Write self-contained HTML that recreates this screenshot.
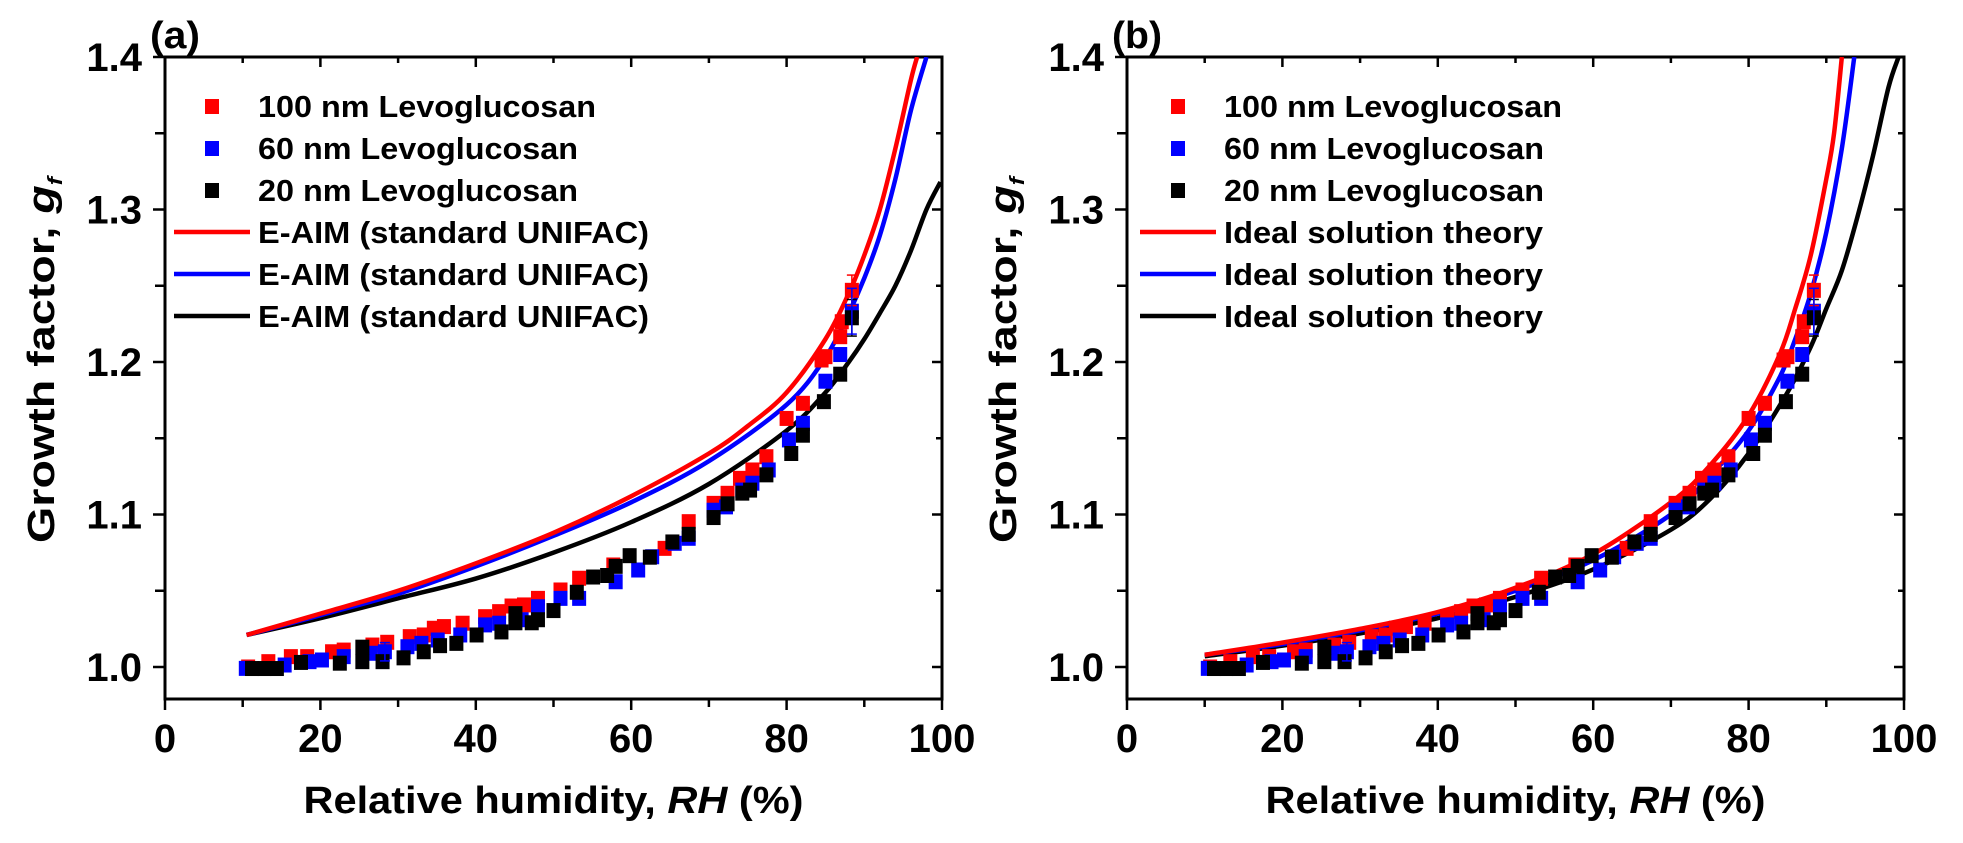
<!DOCTYPE html>
<html><head><meta charset="utf-8"><style>
html,body{margin:0;padding:0;background:#fff;}
svg{display:block;font-family:"Liberation Sans",Arial,sans-serif;font-weight:bold;}
</style></head><body>
<svg id="chart" width="1963" height="843" viewBox="0 0 1963 843" xmlns="http://www.w3.org/2000/svg"></svg>
<script>
// ---- data ----
const rhRed=[10.7,13.3,16.2,18.3,21.5,23.0,26.7,28.6,31.5,33.3,34.6,35.9,38.3,41.2,43.0,44.6,46.2,48.0,50.9,53.3,57.7,64.3,67.4,70.6,72.4,74.0,75.6,77.4,80.0,82.1,84.5,85.0,86.9,87.1,88.4];
const gfRed=[1.000,1.0035,1.0068,1.0068,1.010,1.0111,1.0144,1.0162,1.0199,1.021,1.0254,1.0265,1.0287,1.033,1.0363,1.040,1.0407,1.045,1.0505,1.0582,1.0669,1.0778,1.0953,1.1073,1.1139,1.1237,1.1292,1.1379,1.163,1.1729,1.2013,1.2035,1.2166,1.2264,1.247];
const rhBlue=[10.4,15.4,18.6,20.2,23.0,26.5,28.3,31.2,33.0,35.1,38.0,41.2,43.0,45.9,48.0,50.9,53.3,58.0,60.9,62.7,65.6,67.4,70.6,72.2,74.3,75.6,77.7,80.3,82.1,85.0,86.9,88.4];
const gfBlue=[0.9991,1.0013,1.0035,1.0046,1.0068,1.009,1.010,1.0133,1.0155,1.0177,1.021,1.0276,1.0287,1.031,1.0395,1.045,1.045,1.0559,1.0636,1.0723,1.0811,1.0844,1.1028,1.105,1.116,1.1205,1.1292,1.1489,1.1598,1.1874,1.2049,1.2333];
const rhBlack=[11.2,12.8,14.4,17.5,22.5,25.4,25.4,28.0,30.7,33.3,35.4,37.5,40.1,43.3,45.1,45.1,47.2,48.0,50.0,53.0,55.1,56.9,58.0,59.8,62.4,65.3,67.4,70.6,72.4,74.3,75.3,77.4,80.6,82.1,84.8,86.9,88.4];
const gfBlack=[0.999,0.999,0.999,1.003,1.0025,1.013,1.0035,1.0035,1.006,1.010,1.014,1.0155,1.021,1.023,1.035,1.029,1.029,1.031,1.037,1.049,1.059,1.060,1.066,1.073,1.072,1.082,1.087,1.098,1.107,1.114,1.116,1.126,1.140,1.152,1.174,1.192,1.229];
// model curves panel a (E-AIM)
const rhAIMRed=[10.5,20,30,40,50,60,70,75,80,85,88,90,92,94,96,96.8];
const gfAIMRed=[1.021,1.035,1.050,1.068,1.088,1.112,1.140,1.158,1.180,1.215,1.245,1.270,1.300,1.340,1.385,1.40];
const rhAIMBlue=[10.5,20,30,40,50,60,70,80,85,88,90,92,94,96,98];
const gfAIMBlue=[1.021,1.034,1.048,1.066,1.086,1.108,1.135,1.172,1.203,1.232,1.255,1.283,1.320,1.365,1.40];
const rhAIMBlack=[10.5,20,30,40,50,60,70,80,85,88,90,92,94,96,98,99.8];
const gfAIMBlack=[1.021,1.032,1.045,1.058,1.075,1.095,1.120,1.155,1.180,1.200,1.215,1.232,1.250,1.273,1.300,1.318];
// model curves panel b (ideal solution)
const rhIdRed=[10,20,30,40,50,60,70,75,80,84,86,88,90,91,92];
const gfIdRed=[1.008,1.016,1.025,1.036,1.052,1.074,1.108,1.132,1.165,1.205,1.235,1.270,1.320,1.350,1.40];
const rhIdBlue=[10,20,30,40,50,60,70,75,80,84,86,88,90,92,93.6];
const gfIdBlue=[1.008,1.015,1.024,1.035,1.050,1.070,1.100,1.125,1.155,1.190,1.215,1.245,1.285,1.340,1.40];
const rhIdBlack=[10,20,30,40,50,60,70,75,80,85,88,90,92,94,96,98,99.3];
const gfIdBlack=[1.007,1.014,1.022,1.032,1.046,1.064,1.090,1.110,1.140,1.180,1.210,1.235,1.260,1.295,1.335,1.380,1.40];
const xTicks=[0,20,40,60,80,100];
const yTicks=[1.0,1.1,1.2,1.3,1.4];
const yTickLabels=["1.0","1.1","1.2","1.3","1.4"];

const NS="http://www.w3.org/2000/svg";
const svg=document.getElementById('chart');
function mk(tag,attrs,parent){const e=document.createElementNS(NS,tag);for(const k in attrs)e.setAttribute(k,attrs[k]);(parent||svg).appendChild(e);return e;}
function smoothPath(pts){
  let d='M'+pts[0][0]+','+pts[0][1];
  for(let i=0;i<pts.length-1;i++){
    const p0=pts[i-1]||pts[i],p1=pts[i],p2=pts[i+1],p3=pts[i+2]||p2;
    const c1=[p1[0]+(p2[0]-p0[0])/6,p1[1]+(p2[1]-p0[1])/6];
    const c2=[p2[0]-(p3[0]-p1[0])/6,p2[1]-(p3[1]-p1[1])/6];
    d+=` C${c1[0]},${c1[1]} ${c2[0]},${c2[1]} ${p2[0]},${p2[1]}`;
  }
  return d;
}

const X0=165, XW=777, TOP=57, BOT=699, PPU=1525;
function panel(dx,label,curves,legendLine){
  const g=mk('g',{});
  
  
  const xs=v=>dx+X0+v/100*XW;
  const ys=v=>TOP+(1.4-v)*PPU;
  const L=dx+X0,R=dx+X0+XW;
  const fr=mk('rect',{x:L,y:TOP,width:XW,height:BOT-TOP,fill:'none',stroke:'#000','stroke-width':3},g);
  
  
  for(let v=0;v<=100;v+=10){
    const major=v%20===0;const x=xs(v);
    mk('line',{x1:x,y1:BOT,x2:x,y2:BOT+(major?11:8),stroke:'#000','stroke-width':2.5},g);
    mk('line',{x1:x,y1:TOP,x2:x,y2:TOP+(major?10:6),stroke:'#000','stroke-width':2.5},g);
  }
  xTicks.forEach(v=>{
    const t=mk('text',{x:xs(v),y:752,'text-anchor':'middle','font-size':40},g);
    t.textContent=String(v);
    
    
  });
  for(let i=0;i<=8;i++){
    const v=1.0+i*0.05;const major=i%2===0;const y=ys(v);
    mk('line',{x1:L,y1:y,x2:L-(major?12:10),y2:y,stroke:'#000','stroke-width':2.5},g);
    mk('line',{x1:R,y1:y,x2:R-(major?10:6),y2:y,stroke:'#000','stroke-width':2.5},g);
  }
  yTicks.forEach((v,i)=>{
    const t=mk('text',{x:L-23,y:ys(v)+14,'text-anchor':'end','font-size':40},g);
    t.textContent=yTickLabels[i];
    
    
  });
  const xt=mk('text',{x:L+XW/2,y:813,'text-anchor':'middle','font-size':38,textLength:500,lengthAdjust:'spacingAndGlyphs'},g);
  xt.innerHTML='Relative humidity, <tspan font-style="italic">RH</tspan> (%)';
  
  
  const yt=mk('text',{x:0,y:0,'text-anchor':'middle','font-size':38,textLength:366,lengthAdjust:'spacingAndGlyphs',transform:`translate(${dx+54},360) rotate(-90)`},g);
  yt.innerHTML='Growth factor, <tspan font-style="italic">g</tspan><tspan font-style="italic" font-size="20" dy="8">f</tspan>';
  
  
  const pl=mk('text',{x:dx+150,y:48,'font-size':38,textLength:50,lengthAdjust:'spacingAndGlyphs'},g);
  pl.textContent='('+label+')';
  
  
  const cid='clip'+label;
  const cp=mk('clipPath',{id:cid},g);
  mk('rect',{x:L,y:TOP,width:XW,height:BOT-TOP},cp);
  const pg=mk('g',{'clip-path':`url(#${cid})`},g);
  curves.forEach(c=>{
    const pts=c.rh.map((r,i)=>[xs(r),ys(c.gf[i])]);
    const p=mk('path',{d:smoothPath(pts),fill:'none',stroke:c.col,'stroke-width':4.5,'stroke-linejoin':'round'},pg);
    
    
  });
  const sets=[[rhRed,gfRed,'#f00','100nm'],[rhBlue,gfBlue,'#00f','60nm'],[rhBlack,gfBlack,'#000','20nm']];
  sets.forEach(s=>{
    s[0].forEach((r,i)=>{
      const q=mk('rect',{x:xs(r)-7,y:ys(s[1][i])-7.5,width:14,height:15,fill:s[2]},pg);
      
      
    });
  });
  [[rhBlue,gfBlue,6,'#00f',0.006],[rhBlack,gfBlack,36,'#000',0.012],[rhRed,gfRed,34,'#f00',0.01],[rhBlue,gfBlue,31,'#00f',0.015]].forEach(e=>{
    const x=xs(e[0][e[2]]),v=e[1][e[2]];
    mk('line',{x1:x,y1:ys(v-e[4]),x2:x,y2:ys(v+e[4]),stroke:e[3],'stroke-width':1.5},pg);
    mk('line',{x1:x-5,y1:ys(v-e[4]),x2:x+5,y2:ys(v-e[4]),stroke:e[3],'stroke-width':1.5},pg);
    mk('line',{x1:x-5,y1:ys(v+e[4]),x2:x+5,y2:ys(v+e[4]),stroke:e[3],'stroke-width':1.5},pg);
  });
  const lg=mk('g',{},g);
  
  
  const ldx=dx+(label==='b'?4:0);
  const rows=[['sq','#f00','100 nm Levoglucosan',338],['sq','#00f','60 nm  Levoglucosan',320],['sq','#000','20 nm  Levoglucosan',320],
              ['ln','#f00',legendLine[0],legendLine[1]],['ln','#00f',legendLine[0],legendLine[1]],['ln','#000',legendLine[0],legendLine[1]]];
  rows.forEach((r,i)=>{
    const y=106+i*42;
    if(r[0]==='sq') mk('rect',{x:ldx+205,y:y-7,width:14,height:15,fill:r[1]},lg);
    else mk('line',{x1:ldx+174,y1:y,x2:ldx+250,y2:y,stroke:r[1],'stroke-width':4.5},lg);
    const t=mk('text',{x:ldx+258,y:y+11,'font-size':31,textLength:r[3],lengthAdjust:'spacingAndGlyphs','xml:space':'preserve'},lg);
    t.textContent=r[2];
    
    
  });
}
panel(0,'a',[{rh:rhAIMBlack,gf:gfAIMBlack,col:'#000',name:'eaim-20nm'},{rh:rhAIMBlue,gf:gfAIMBlue,col:'#00f',name:'eaim-60nm'},{rh:rhAIMRed,gf:gfAIMRed,col:'#f00',name:'eaim-100nm'}],['E-AIM (standard UNIFAC)',391]);
panel(962,'b',[{rh:rhIdBlack,gf:gfIdBlack,col:'#000',name:'ideal-20nm'},{rh:rhIdBlue,gf:gfIdBlue,col:'#00f',name:'ideal-60nm'},{rh:rhIdRed,gf:gfIdRed,col:'#f00',name:'ideal-100nm'}],['Ideal solution theory',319]);
</script>
</body></html>
